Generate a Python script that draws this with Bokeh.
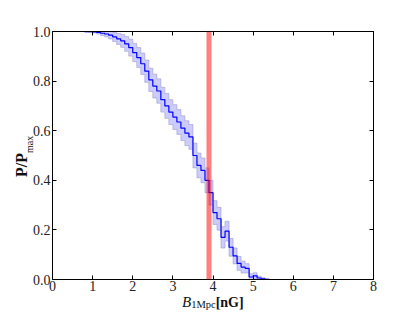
import numpy as np
from bokeh.plotting import figure
from bokeh.models import Span, LinearAxis, FixedTicker, NumeralTickFormatter, Range1d, Div
from bokeh.layouts import row, column
from bokeh.embed import file_html
from bokeh.resources import INLINE

# bin starts (nG), width 0.1
b_bins = [round(0.1 * i, 1) for i in range(55)]
p_ratio = [1.0, 1.0, 1.0, 1.0, 1.0, 1.0, 1.0, 1.0, 0.999, 0.999,
           0.998, 0.996, 0.993, 0.99, 0.985, 0.978, 0.97, 0.962, 0.95, 0.935,
           0.915, 0.895, 0.87, 0.84, 0.805, 0.78, 0.76, 0.725, 0.70, 0.675,
           0.655, 0.635, 0.61, 0.59, 0.575, 0.50, 0.46, 0.44, 0.40, 0.35,
           0.27, 0.245, 0.17, 0.195, 0.13, 0.095, 0.065, 0.05, 0.045, 0.01,
           0.015, 0.006, 0.003, 0.001, 0.0]
p_err = [0.0, 0.0, 0.0, 0.0, 0.0, 0.0, 0.0, 0.0, 0.001, 0.002,
         0.004, 0.006, 0.009, 0.012, 0.015, 0.018, 0.022, 0.026, 0.03, 0.034,
         0.037, 0.04, 0.043, 0.045, 0.047, 0.048, 0.049, 0.05, 0.05, 0.05,
         0.05, 0.05, 0.05, 0.05, 0.05, 0.05, 0.05, 0.05, 0.05, 0.05,
         0.048, 0.046, 0.043, 0.04, 0.036, 0.032, 0.028, 0.024, 0.019, 0.013,
         0.012, 0.007, 0.004, 0.001, 0.0]
bin_width = 0.1
b_obs = 3.9
x_ticks = [0, 1, 2, 3, 4, 5, 6, 7, 8]
y_ticks = [0.0, 0.2, 0.4, 0.6, 0.8, 1.0]

# step arrays (extend the last bin to its right edge)
xs = list(b_bins) + [b_bins[-1] + bin_width]
ys = list(p_ratio) + [p_ratio[-1]]
errs = list(p_err) + [p_err[-1]]
upper = [min(1.0, y + e) for y, e in zip(ys, errs)]
lower = [max(0.0, y - e) for y, e in zip(ys, errs)]

FONT = "Liberation Serif"

p = figure(frame_width=321, frame_height=248,
           min_border_left=20, min_border_right=42, min_border_top=31, min_border_bottom=17,
           x_range=Range1d(0, 8), y_range=Range1d(0, 1),
           output_backend="svg", toolbar_location=None)
p.background_fill_color = "white"
p.border_fill_color = None
p.outline_line_color = "black"
p.outline_line_width = 1
p.grid.visible = False

p.varea_step(x=xs, y1=lower, y2=upper, step_mode="after",
             fill_color="blue", fill_alpha=0.2)
p.step(xs, upper, mode="after", line_color="#9090c0", line_alpha=0.5, line_width=1)
p.step(xs, lower, mode="after", line_color="#9090c0", line_alpha=0.5, line_width=1)
p.step(xs, ys, mode="after", line_color="blue", line_width=1.2)

p.add_layout(Span(location=b_obs, dimension="height", line_color="red",
                  line_alpha=0.5, line_width=5))

p.add_layout(LinearAxis(), "right")
p.add_layout(LinearAxis(), "above")

for ax in p.xaxis:
    ax.ticker = FixedTicker(ticks=x_ticks)
for ax in p.yaxis:
    ax.ticker = FixedTicker(ticks=y_ticks)
    ax.formatter = NumeralTickFormatter(format="0.0")

for ax in p.xaxis + p.yaxis:
    ax.major_tick_in = 4
    ax.major_tick_out = 0
    ax.minor_tick_line_color = None
    ax.axis_line_color = "black"
    ax.major_tick_line_color = "black"
    ax.major_label_text_font = FONT
    ax.major_label_text_font_size = "14px"
    ax.major_label_text_color = "#222222"
    ax.major_label_standoff = 2

p.right[0].major_label_overrides = {t: "" for t in y_ticks}
p.above[0].major_label_overrides = {t: "" for t in x_ticks}
p.right[0].major_label_standoff = 0
p.above[0].major_label_standoff = 0
p.below[0].major_label_standoff = 1

CSS_FONT = "font-family:'Liberation Serif',serif; color:#111;"

YDIV_W = 29
XDIV_W = 415 - YDIV_W

ylabel_html = (
    '<div style="position:relative; width:%dpx; height:312px;">'
    '<div style="position:absolute; left:14px; top:177px; transform:rotate(-90deg); '
    'transform-origin:0 0; white-space:nowrap; line-height:16px; font-size:16px; '
    'font-weight:bold; %s">P/P'
    '<span style="font-size:10px; font-weight:normal; vertical-align:-6px; line-height:0;">max</span>'
    '</div></div>'
) % (YDIV_W, CSS_FONT)
xlabel_html = (
    '<div style="position:relative; width:%dpx; height:15px;">'
    '<div style="position:absolute; left:%dpx; top:0px; white-space:nowrap; '
    'line-height:12px; font-size:15px; %s">'
    '<i>B</i><span style="font-size:10.5px; vertical-align:-1px; line-height:0;">1Mpc</span>'
    '<b style="font-size:14px;">[nG]</b>'
    '</div></div>'
) % (XDIV_W, 182 - YDIV_W, CSS_FONT)

ydiv = Div(text=ylabel_html, width=YDIV_W, height=312, margin=0, styles={"overflow": "visible"})
xdiv = Div(text=xlabel_html, width=XDIV_W, height=15, margin=0, styles={"overflow": "visible"})

layout = row(ydiv, column(p, xdiv, spacing=0), spacing=0)

open("out.html", "w").write(file_html(layout, INLINE))
